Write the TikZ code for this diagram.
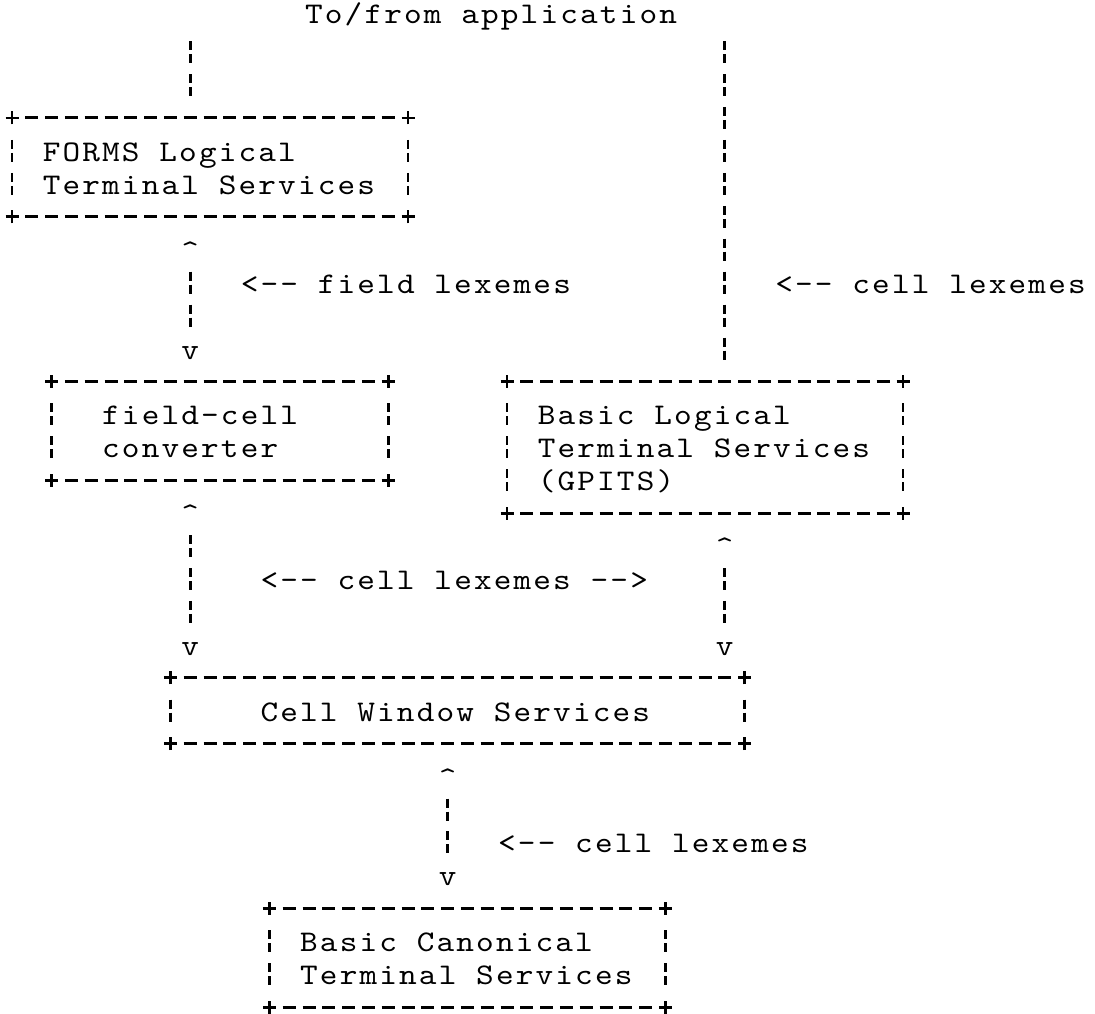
\documentclass[tikz,border=0pt]{standalone}
\usepackage{fontspec}
\newfontfamily\asciifont{lmmono10-regular.otf}[FakeStretch=1.12,LetterSpace=7.2]
\newcommand\asciisize{\asciifont\fontsize{30pt}{33pt}\selectfont}
\tikzset{
  lbl/.style={anchor=base west, inner sep=0pt, outer sep=0pt, xshift=-8.82pt, yshift=-10.5pt, font=\asciisize},
  arr/.style={inner sep=0pt, outer sep=0pt, text height=25pt, text depth=4pt, minimum height=43.86pt, font=\asciisize},
  hedge/.style={line width=3pt, dash pattern=on 13pt off 6.8pt},
  vedge/.style={line width=2.7pt, dash pattern=on 9pt off 4pt on 9pt off 10.93pt},
  plusmk/.style={line width=2.8pt},
  boxarea/.style={inner sep=0pt, outer sep=0pt, draw=none},
}
% name, col1, row1, col2, row2
\newcommand\asciibox[5]{%
  \node[boxarea, minimum width={(#4-#2)*19.8pt}, minimum height={(#5-#3)*32.93pt}]
    (#1) at ({(#2+#4)/2},{(#3+#5)/2}) {};
  \draw[hedge] ([xshift=13.3pt]#1.north west) -- ([xshift=-13.3pt]#1.north east);
  \draw[hedge] ([xshift=13.3pt]#1.south west) -- ([xshift=-13.3pt]#1.south east);
  \draw[vedge] ([yshift=-21.93pt]#1.north west) -- ([yshift=21.93pt]#1.south west);
  \draw[vedge] ([yshift=-21.93pt]#1.north east) -- ([yshift=21.93pt]#1.south east);
  \foreach \corner in {north west,north east,south west,south east}{
    \draw[plusmk] ([xshift=-6.5pt]#1.\corner) -- ([xshift=6.5pt]#1.\corner)
                  ([yshift=-6.5pt]#1.\corner) -- ([yshift=6.5pt]#1.\corner);
  }%
}
\begin{document}
\begin{tikzpicture}[x=19.8pt,y=-32.93pt]
\useasboundingbox (0pt,0pt) rectangle (1095pt,-1013pt);
\begin{scope}[shift={(12pt,13.73pt)}]
% boxes
\asciibox{forms}{0}{4}{20}{7}
\asciibox{fcc}{2}{12}{19}{15}
\asciibox{blts}{25}{12}{45}{16}
\asciibox{cws}{8}{21}{37}{23}
\asciibox{bcts}{13}{28}{33}{31}
% box texts
\node[lbl] (formsA) at (2,5) {FORMS Logical};
\node[lbl] (formsB) at (2,6) {Terminal Services};
\node[lbl] (fccA) at (5,13) {field-cell};
\node[lbl] (fccB) at (5,14) {converter};
\node[lbl] (bltsA) at (27,13) {Basic Logical};
\node[lbl] (bltsB) at (27,14) {Terminal Services};
\node[lbl] (bltsC) at (27,15) {(GPITS)};
\node[lbl] (cwsA) at (13,22) {Cell Window Services};
\node[lbl] (bctsA) at (15,29) {Basic Canonical};
\node[lbl] (bctsB) at (15,30) {Terminal Services};
% other labels
\node[lbl] (app) at (15.25,0.8) {To/from application};
\node[lbl] (lexA) at (12,9) {<-- field lexemes};
\node[lbl] (lexB) at (39,9) {<-- cell lexemes};
\node[lbl] (lexC) at (13,18) {<-- cell lexemes -->};
\node[lbl] (lexD) at (25,26) {<-- cell lexemes};
% lines from the application
\coordinate (ltop) at ([yshift=11pt]9,2);
\coordinate (rtop) at ([yshift=11pt]36,2);
\draw[vedge] (ltop) -- ([yshift=21.93pt]ltop |- forms.north);
\draw[vedge] (rtop) -- ([yshift=21.93pt]rtop |- blts.north);
% two-way connectors
\node[arr] (u1) at (9,8) {\textasciicircum};
\node[arr] (d1) at (9,11) {v};
\draw[vedge] (u1.south) -- (d1.north);
\node[arr] (u2) at (9,16) {\textasciicircum};
\node[arr] (d2) at (9,20) {v};
\draw[vedge] (u2.south) -- (d2.north);
\node[arr] (u3) at (36,17) {\textasciicircum};
\node[arr] (d3) at (36,20) {v};
\draw[vedge] (u3.south) -- (d3.north);
\node[arr] (u4) at (22,24) {\textasciicircum};
\node[arr] (d4) at (22,27) {v};
\draw[vedge] (u4.south) -- (d4.north);
\end{scope}
\end{tikzpicture}
\end{document}
